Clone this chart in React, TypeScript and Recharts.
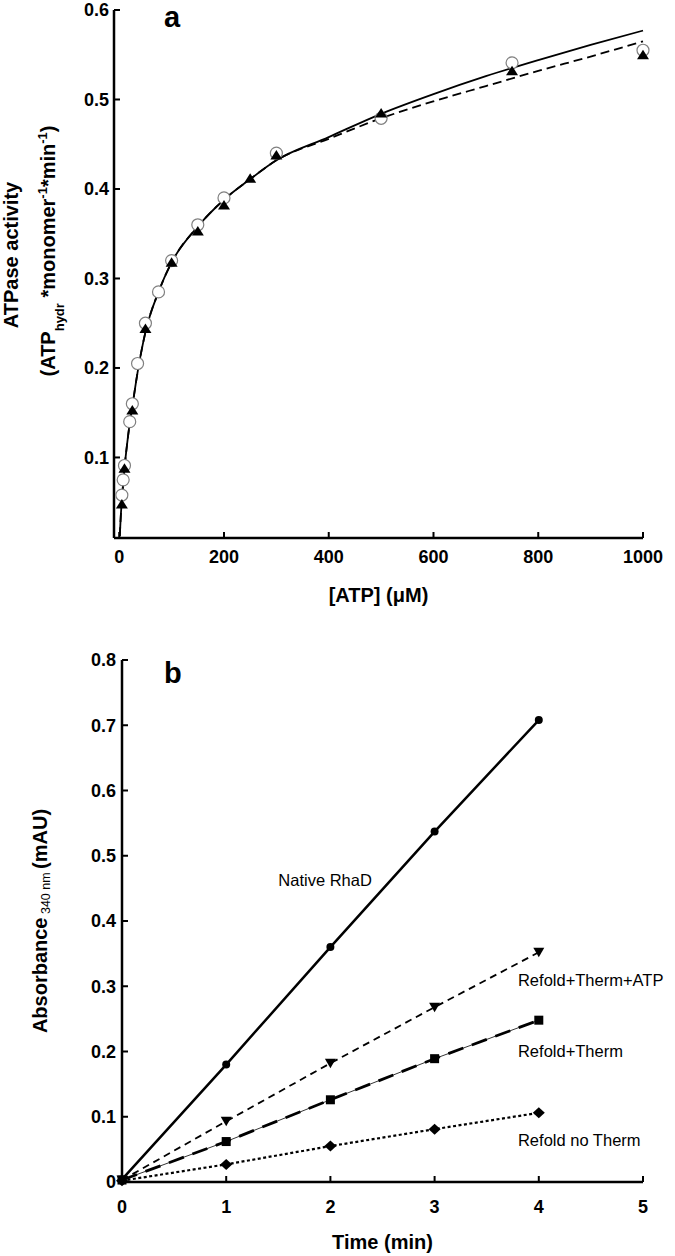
import React from "react";
import {
  ComposedChart,
  LineChart,
  Line,
  Scatter,
  XAxis,
  YAxis,
  ReferenceDot,
} from "recharts";

const FONT = '"Liberation Sans", Arial, sans-serif';

// ---- panel a: ATPase activity vs [ATP] ----
const CIRCLE_ATP = [5, 7.5, 10, 20, 25, 35, 50, 75, 100, 150, 200, 300, 500, 750, 1000];
const CIRCLE_ACT = [0.058, 0.075, 0.091, 0.14, 0.16, 0.205, 0.25, 0.285, 0.32, 0.36, 0.39, 0.44, 0.479, 0.541, 0.555];
const TRIANGLE_ATP = [5, 10, 25, 50, 100, 150, 200, 250, 300, 500, 750, 1000];
const TRIANGLE_ACT = [0.048, 0.088, 0.153, 0.244, 0.318, 0.353, 0.382, 0.412, 0.438, 0.485, 0.532, 0.55];

const FIT_ATP = [1, 3, 5, 10, 15, 20, 25, 35, 50, 75, 100, 150, 200, 250, 300, 400, 500, 600, 700, 800, 900, 1000];
const FIT_SOLID = [0.012, 0.035, 0.052, 0.088, 0.115, 0.138, 0.157, 0.195, 0.24, 0.285, 0.318, 0.358, 0.388, 0.411, 0.432, 0.458, 0.484, 0.506, 0.526, 0.544, 0.561, 0.577];
const FIT_DASHED = [0.012, 0.035, 0.052, 0.088, 0.115, 0.138, 0.157, 0.195, 0.24, 0.285, 0.318, 0.358, 0.388, 0.411, 0.432, 0.456, 0.479, 0.498, 0.515, 0.532, 0.548, 0.565];

const A_X_TICKS = [0, 200, 400, 600, 800, 1000];
const A_Y_TICKS = [0.1, 0.2, 0.3, 0.4, 0.5, 0.6];

// ---- panel b: absorbance vs time ----
const TIME_MIN = [0, 1, 2, 3, 4];
const NATIVE = [0.004, 0.18, 0.36, 0.537, 0.708];
const REFOLD_THERM_ATP = [0.003, 0.093, 0.182, 0.268, 0.352];
const REFOLD_THERM = [0.003, 0.062, 0.126, 0.189, 0.248];
const REFOLD_NO_THERM = [0.002, 0.027, 0.055, 0.081, 0.106];

const B_X_TICKS = [0, 1, 2, 3, 4, 5];
const B_Y_TICKS = [0, 0.1, 0.2, 0.3, 0.4, 0.5, 0.6, 0.7, 0.8];

const SERIES_LABELS = [
  { text: "Native RhaD", x: 1.5, y: 0.463 },
  { text: "Refold+Therm+ATP", x: 3.8, y: 0.31 },
  { text: "Refold+Therm", x: 3.8, y: 0.2 },
  { text: "Refold no Therm", x: 3.8, y: 0.064 },
];

const zip = (xs: number[], ys: number[]) => xs.map((x, i) => ({ x, y: ys[i] }));

const circleData = zip(CIRCLE_ATP, CIRCLE_ACT);
const triangleData = zip(TRIANGLE_ATP, TRIANGLE_ACT);
const fitSolid = zip(FIT_ATP, FIT_SOLID);
const fitDashed = zip(FIT_ATP, FIT_DASHED);

const timeRows = TIME_MIN.map((t, i) => ({
  t,
  native: NATIVE[i],
  atp: REFOLD_THERM_ATP[i],
  therm: REFOLD_THERM[i],
  noTherm: REFOLD_NO_THERM[i],
}));

// ticks drawn inside the plot, labels outside
function yTick(gap: number) {
  return (props: any) => {
    const { x, y, payload } = props;
    const ax = x + gap;
    return (
      <g>
        <line x1={ax} x2={ax + 6} y1={y} y2={y} stroke="#000" strokeWidth={2} />
        <text x={x} y={y} dy="0.36em" textAnchor="end" fontSize={18} fontWeight="bold" fontFamily={FONT} fill="#000">
          {payload.value}
        </text>
      </g>
    );
  };
}

function xTick(drop: number) {
  return (props: any) => {
    const { x, y, payload } = props;
    return (
      <g>
        <line x1={x} x2={x} y1={y} y2={y - 6} stroke="#000" strokeWidth={2} />
        <text x={x} y={y + drop} dy="0.36em" textAnchor="middle" fontSize={18} fontWeight="bold" fontFamily={FONT} fill="#000">
          {payload.value}
        </text>
      </g>
    );
  };
}

const openCircle = (p: any) => (
  <circle cx={p.cx} cy={p.cy} r={6} fill="#fff" stroke="#808080" strokeWidth={1.2} />
);
const filledTriangle = (p: any) => (
  <path d={`M${p.cx},${p.cy - 5} L${p.cx + 6},${p.cy + 4.5} L${p.cx - 6},${p.cy + 4.5} Z`} fill="#000" />
);

const dotCircle = (p: any) => <circle key={p.index} cx={p.cx} cy={p.cy} r={4} fill="#000" />;
const dotDown = (p: any) => (
  <path key={p.index} d={`M${p.cx - 5.5},${p.cy - 4.5} L${p.cx + 5.5},${p.cy - 4.5} L${p.cx},${p.cy + 5} Z`} fill="#000" />
);
const dotSquare = (p: any) => <rect key={p.index} x={p.cx - 4.5} y={p.cy - 4.5} width={9} height={9} fill="#000" />;
const dotDiamond = (p: any) => (
  <path key={p.index} d={`M${p.cx},${p.cy - 5.5} L${p.cx + 6},${p.cy} L${p.cx},${p.cy + 5.5} L${p.cx - 6},${p.cy} Z`} fill="#000" />
);

const axisLine = { stroke: "#000", strokeWidth: 2.5 };

function ATPaseTitle(props: any) {
  const vb = props.viewBox;
  const cy = vb.y + vb.height / 2 - 19;
  return (
    <g fontFamily={FONT} fontWeight="bold" fill="#000">
      <text x={18} y={cy} transform={`rotate(-90, 18, ${cy})`} textAnchor="middle" fontSize={20}>
        ATPase activity
      </text>
      <text x={55} y={cy - 4} transform={`rotate(-90, 55, ${cy - 4})`} textAnchor="middle" fontSize={20}>
        (ATP
        <tspan fontSize={13} dy={9}>hydr</tspan>
        <tspan dy={-9}> *monomer</tspan>
        <tspan fontSize={13} dy={-8}>-1</tspan>
        <tspan dy={8}>*min</tspan>
        <tspan fontSize={13} dy={-8}>-1</tspan>
        <tspan dy={8}>)</tspan>
      </text>
    </g>
  );
}

function AbsorbanceTitle(props: any) {
  const vb = props.viewBox;
  const cy = vb.y + vb.height / 2;
  return (
    <text x={47} y={cy} transform={`rotate(-90, 47, ${cy})`} textAnchor="middle" fontFamily={FONT} fontWeight="bold" fontSize={20} fill="#000">
      Absorbance
      <tspan fontSize={12.5} fontWeight="normal" dy={3}> 340 nm </tspan>
      <tspan dy={-3}>(mAU)</tspan>
    </text>
  );
}

const xTitle = (text: string, drop: number) => (props: any) => {
  const vb = props.viewBox;
  return (
    <text x={vb.x + vb.width / 2} y={vb.y + drop} dy="0.36em" textAnchor="middle" fontFamily={FONT} fontWeight="bold" fontSize={20} fill="#000">
      {text}
    </text>
  );
};

const seriesLabel = (text: string) => (props: any) => {
  const vb = props.viewBox;
  return (
    <text x={vb.x} y={vb.y} dy="0.36em" textAnchor="start" fontFamily={FONT} fontSize={16.5} fill="#000">
      {text}
    </text>
  );
};

const panelLetter: React.CSSProperties = {
  position: "absolute",
  fontFamily: FONT,
  fontWeight: "bold",
  fontSize: 29,
  lineHeight: 1,
  color: "#000",
};

export default function App() {
  return (
    <div style={{ position: "absolute", left: 0, top: 0, width: 675, height: 1256, background: "#fff" }}>
      <ComposedChart width={675} height={630} margin={{ top: 10, right: 32, left: 0, bottom: 62 }}>
        <XAxis
          dataKey="x"
          type="number"
          domain={[-10, 1000]}
          ticks={A_X_TICKS}
          interval={0}
          height={30}
          axisLine={axisLine}
          tickLine={false}
          tickSize={0}
          tickMargin={0}
          tick={xTick(19)}
          label={{ content: xTitle("[ATP] (\u03bcM)", 57) }}
        />
        <YAxis
          dataKey="y"
          type="number"
          domain={[0.01, 0.6]}
          ticks={A_Y_TICKS}
          interval={0}
          width={114}
          axisLine={axisLine}
          tickLine={false}
          tickSize={0}
          tickMargin={5}
          tick={yTick(5)}
          label={{ content: ATPaseTitle }}
        />
        <Line data={fitDashed} dataKey="y" type="monotone" stroke="#000" strokeWidth={1.8} strokeDasharray="9 5" dot={false} isAnimationActive={false} />
        <Line data={fitSolid} dataKey="y" type="monotone" stroke="#000" strokeWidth={1.8} dot={false} isAnimationActive={false} />
        <Scatter data={circleData} dataKey="y" shape={openCircle} isAnimationActive={false} />
        <Scatter data={triangleData} dataKey="y" shape={filledTriangle} isAnimationActive={false} />
      </ComposedChart>

      <div style={{ position: "absolute", left: 0, top: 630 }}>
        <LineChart width={675} height={626} data={timeRows} margin={{ top: 30, right: 32, left: 0, bottom: 44 }}>
          <XAxis
            dataKey="t"
            type="number"
            domain={[0, 5]}
            ticks={B_X_TICKS}
            interval={0}
            height={30}
            axisLine={axisLine}
            tickLine={false}
            tickSize={0}
            tickMargin={0}
            tick={xTick(25)}
            label={{ content: xTitle("Time (min)", 60) }}
          />
          <YAxis
            type="number"
            domain={[0, 0.8]}
            ticks={B_Y_TICKS}
            interval={0}
            width={122}
            axisLine={axisLine}
            tickLine={false}
            tickSize={0}
            tickMargin={6}
            tick={yTick(6)}
            label={{ content: AbsorbanceTitle }}
          />
          <Line dataKey="noTherm" type="linear" stroke="#000" strokeWidth={2.2} strokeDasharray="3 2.5" dot={dotDiamond} isAnimationActive={false} />
          <Line dataKey="therm" type="linear" stroke="#000" strokeWidth={0.8} dot={false} isAnimationActive={false} />
          <Line dataKey="therm" type="linear" stroke="#000" strokeWidth={2.8} strokeDasharray="16 9" dot={dotSquare} isAnimationActive={false} />
          <Line dataKey="atp" type="linear" stroke="#000" strokeWidth={1.8} strokeDasharray="7 5" dot={dotDown} isAnimationActive={false} />
          <Line dataKey="native" type="linear" stroke="#000" strokeWidth={2.5} dot={dotCircle} isAnimationActive={false} />
          {SERIES_LABELS.map((l) => (
            <ReferenceDot key={l.text} x={l.x} y={l.y} r={0} fill="none" stroke="none" label={{ content: seriesLabel(l.text) }} />
          ))}
        </LineChart>
      </div>

      <div style={{ ...panelLetter, left: 164, top: 3 }}>a</div>
      <div style={{ ...panelLetter, left: 164, top: 659 }}>b</div>
    </div>
  );
}
